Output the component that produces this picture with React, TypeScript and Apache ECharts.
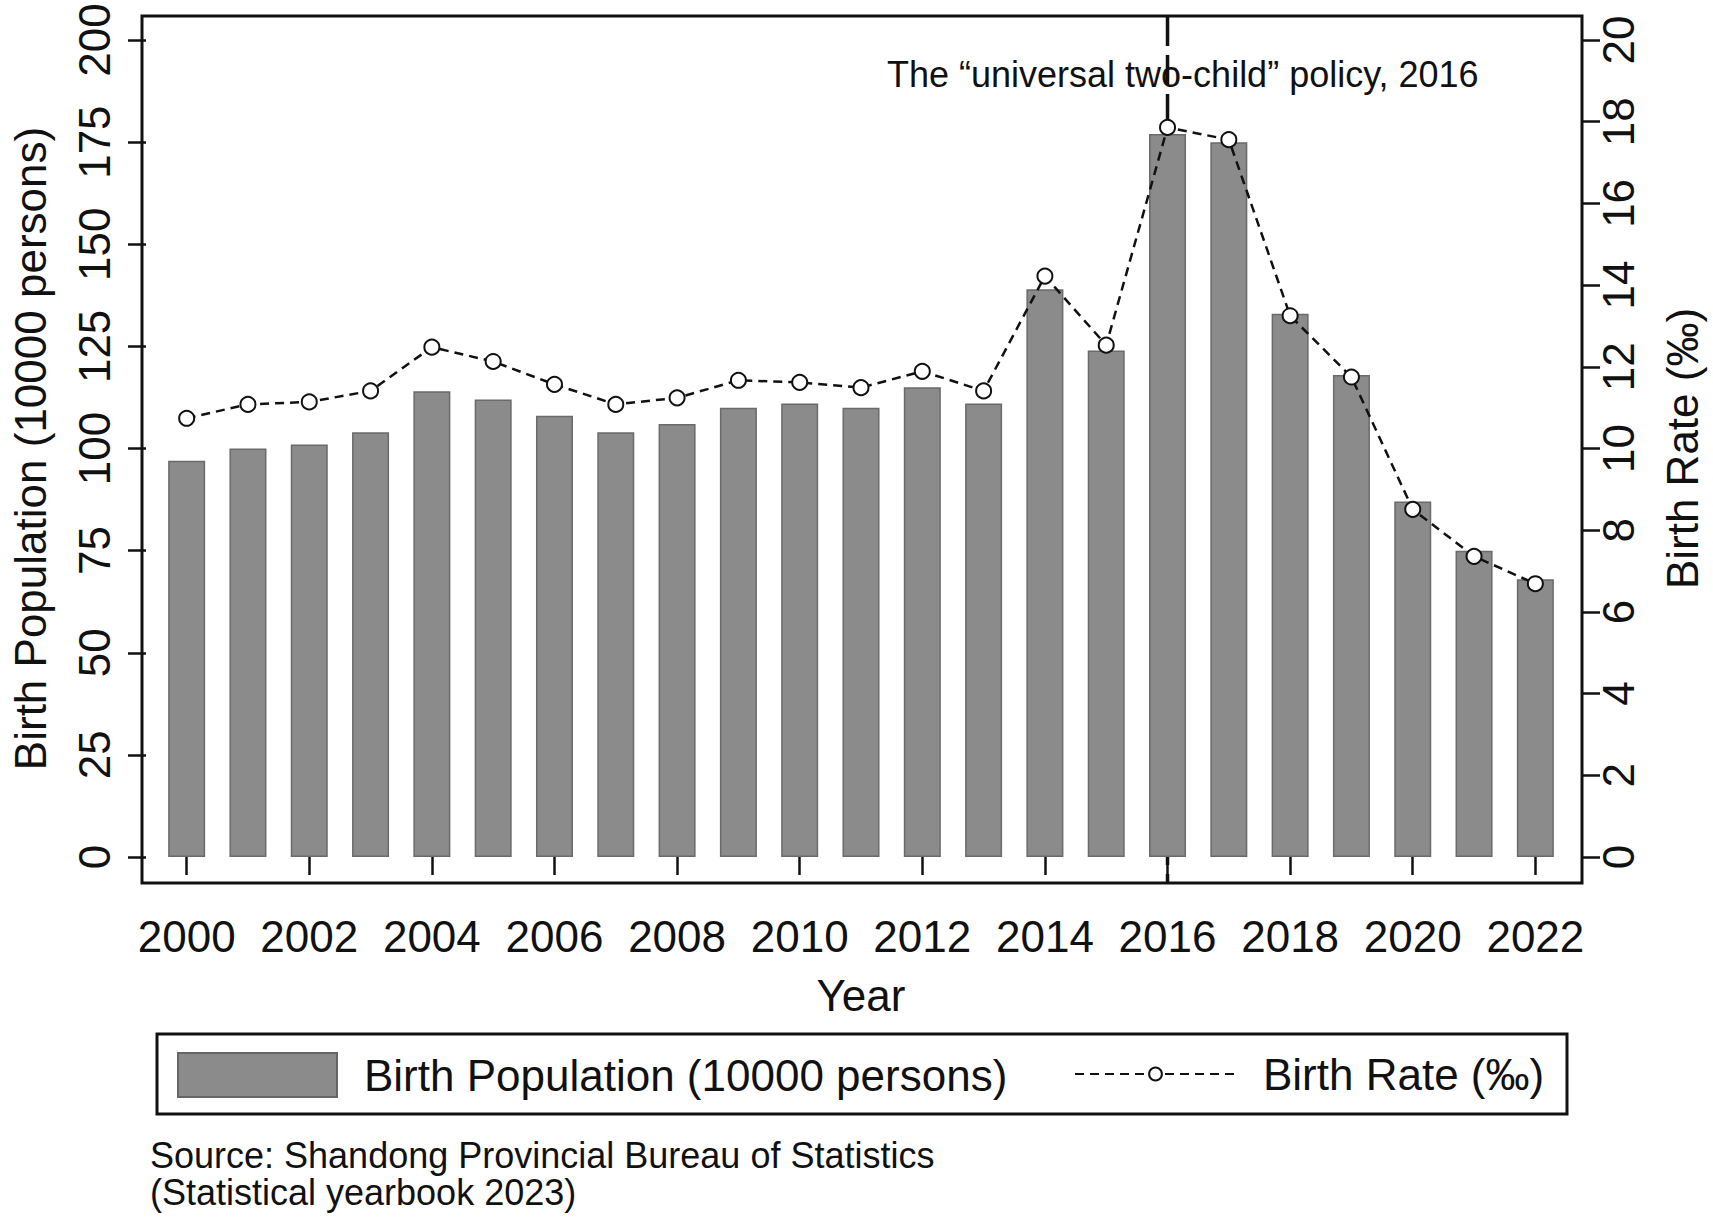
import React, { useEffect, useRef } from 'react';
import * as echarts from 'echarts';

const years = [
  '2000', '2001', '2002', '2003', '2004', '2005', '2006', '2007', '2008', '2009', '2010', '2011',
  '2012', '2013', '2014', '2015', '2016', '2017', '2018', '2019', '2020', '2021', '2022',
];
// birth population, 10000 persons
const birthPopulation = [97, 100, 101, 104, 114, 112, 108, 104, 106, 110, 111, 110, 115, 111, 139, 124, 177, 175, 133, 118, 87, 75, 68];
// birth rate, per mille
const birthRate = [10.74, 11.08, 11.14, 11.41, 12.48, 12.13, 11.57, 11.08, 11.24, 11.67, 11.62, 11.49, 11.89, 11.41, 14.22, 12.53, 17.86, 17.56, 13.25, 11.75, 8.51, 7.36, 6.69];
const popAxis = { min: 0, max: 200, step: 25 };
const rateAxis = { min: 0, max: 20, step: 2 };
const policyYear = '2016';

const FONT = '"Liberation Sans", Arial, sans-serif';
const INK = '#111';

export default function App() {
  const ref = useRef<HTMLDivElement>(null);
  useEffect(() => {
    if (!ref.current) return;
    const chart = echarts.init(ref.current, null, { renderer: 'svg' });
    chart.setOption({
      animation: false,
      backgroundColor: '#fff',
      textStyle: { fontFamily: FONT, color: INK },
      grid: { left: 152, right: 147, top: 40, bottom: 362 },
      xAxis: {
        type: 'category',
        data: years,
        offset: 26,
        axisLine: { show: false },
        axisTick: { show: true, interval: 1, alignWithLabel: true, length: 18, lineStyle: { color: INK, width: 2.5 } },
        axisLabel: { interval: 1, fontSize: 44, color: INK, margin: 31, fontFamily: FONT },
        name: 'Year',
        nameLocation: 'middle',
        nameGap: 90,
        nameTextStyle: { fontSize: 44, color: INK, fontFamily: FONT },
      },
      yAxis: [
        {
          type: 'value',
          min: popAxis.min,
          max: popAxis.max,
          interval: popAxis.step,
          offset: 10,
          splitLine: { show: false },
          axisLine: { show: false },
          axisTick: { show: true, length: 18, lineStyle: { color: INK, width: 2.5 } },
          axisLabel: { rotate: 90, fontSize: 44, color: INK, margin: 30, fontFamily: FONT },
          name: 'Birth Population (10000 persons)',
          nameLocation: 'middle',
          nameRotate: 90,
          nameGap: 94,
          nameTextStyle: { fontSize: 44, color: INK, fontFamily: FONT },
        },
        {
          type: 'value',
          position: 'right',
          min: rateAxis.min,
          max: rateAxis.max,
          interval: rateAxis.step,
          offset: 16,
          splitLine: { show: false },
          axisLine: { show: false },
          axisTick: { show: true, length: 18, lineStyle: { color: INK, width: 2.5 } },
          axisLabel: { rotate: 90, fontSize: 44, color: INK, margin: 14, fontFamily: FONT },
          name: 'Birth Rate (‰)',
          nameLocation: 'middle',
          nameRotate: 90,
          nameGap: 78,
          nameTextStyle: { fontSize: 44, color: INK, fontFamily: FONT },
        },
      ],
      legend: [
        {
          data: [{ name: 'Birth Population (10000 persons)', icon: 'rect' }],
          left: 177,
          top: 1052,
          padding: 0,
          itemWidth: 159,
          itemHeight: 44,
          itemGap: 0,
          itemStyle: { color: '#8b8b8b', borderColor: '#666', borderWidth: 2 },
          textStyle: { fontSize: 44, color: INK, fontFamily: FONT, padding: [0, 0, 0, 22] },
        },
        {
          data: ['Birth Rate (‰)'],
          left: 1074,
          top: 1052,
          padding: 0,
          itemWidth: 161,
          itemHeight: 16,
          itemGap: 0,
          textStyle: { fontSize: 44, color: INK, fontFamily: FONT, padding: [0, 0, 0, 22] },
        },
      ],
      series: [
        {
          name: 'Birth Population (10000 persons)',
          type: 'bar',
          data: birthPopulation,
          barWidth: 37,
          itemStyle: { color: '#8b8b8b', borderColor: '#6a6a6a', borderWidth: 1.5 },
          z: 3,
        },
        {
          name: 'Birth Rate (‰)',
          type: 'line',
          yAxisIndex: 1,
          data: birthRate,
          symbol: 'emptyCircle',
          symbolSize: 15,
          lineStyle: { color: INK, width: 2.5, type: [9, 6] },
          itemStyle: { color: INK, borderColor: INK, borderWidth: 2.8 },
          z: 4,
        },
      ],
    });

    const x2016 = chart.convertToPixel({ xAxisIndex: 0 }, policyYear) as number;
    chart.setOption({
      graphic: [
        {
          type: 'line',
          z: 1,
          shape: { x1: x2016, y1: 16, x2: x2016, y2: 883 },
          style: { stroke: INK, lineWidth: 3.5, lineDash: [30, 9] },
        },
        {
          type: 'rect',
          z: 10,
          shape: { x: 142, y: 16, width: 1440, height: 867 },
          style: { fill: 'none', stroke: INK, lineWidth: 3 },
        },
        {
          type: 'text',
          z: 10,
          left: 887,
          top: 56,
          style: { text: 'The “universal two-child” policy, 2016', font: `36px ${FONT}`, fill: INK },
        },
        {
          type: 'rect',
          z: 10,
          shape: { x: 157, y: 1034, width: 1410, height: 80 },
          style: { fill: 'none', stroke: INK, lineWidth: 3 },
        },
        {
          type: 'text',
          z: 10,
          left: 150,
          top: 1137,
          style: { text: 'Source: Shandong Provincial Bureau of Statistics', font: `36px ${FONT}`, fill: INK },
        },
        {
          type: 'text',
          z: 10,
          left: 150,
          top: 1174,
          style: { text: '(Statistical yearbook 2023)', font: `36px ${FONT}`, fill: INK },
        },
      ],
    });
    return () => chart.dispose();
  }, []);
  return <div ref={ref} style={{ position: 'absolute', left: 0, top: 0, width: 1713, height: 1219 }} />;
}
